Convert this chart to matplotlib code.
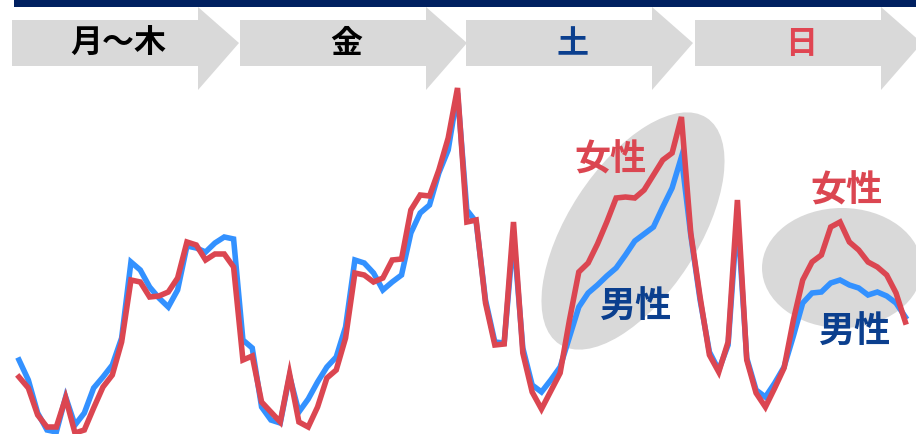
import matplotlib.pyplot as plt
from matplotlib.patches import Polygon, Ellipse, Rectangle

plt.rcParams['font.family'] = ['Noto Sans CJK JP', 'DejaVu Sans']

# hourly index values, 24 points per period (Mon-Thu avg, Fri, Sat, Sun)
male_mon_thu = [80, 60, 27, 10, 8, 43, 15, 27, 52, 63, 75, 102,
                178, 170, 153, 142, 133, 150, 194, 192, 188, 197, 203, 201]
male_fri = [100, 92, 33, 20, 17, 64, 28, 41, 58, 73, 83, 113,
            180, 177, 167, 150, 158, 165, 207, 227, 235, 267, 290, 347]
male_sat = [230, 218, 140, 98, 97, 205, 92, 55, 48, 60, 73, 103,
            133, 147, 155, 164, 172, 185, 199, 206, 213, 233, 252, 283]
male_sun = [205, 140, 88, 70, 95, 225, 82, 50, 43, 57, 73, 104,
            137, 147, 148, 157, 160, 155, 152, 145, 148, 144, 137, 123]

female_mon_thu = [63, 52, 25, 13, 13, 42, 7, 10, 32, 53, 65, 98,
                  160, 158, 143, 144, 148, 162, 198, 195, 180, 186, 186, 173]
female_fri = [80, 84, 38, 28, 18, 66, 18, 13, 33, 62, 70, 102,
              167, 165, 158, 162, 180, 181, 230, 245, 244, 270, 302, 352]
female_sat = [218, 220, 137, 95, 96, 218, 87, 48, 31, 49, 67, 120,
              168, 177, 196, 218, 242, 243, 242, 250, 265, 280, 287, 323]
female_sun = [207, 143, 85, 68, 98, 240, 80, 47, 33, 52, 72, 120,
              160, 178, 185, 213, 218, 198, 190, 178, 173, 165, 147, 118]

period_labels = ['月～木', '金', '土', '日']
period_colors = ['#000000', '#000000', '#0B3F8E', '#E04552']

male = male_mon_thu + male_fri + male_sat + male_sun
female = female_mon_thu + female_fri + female_sat + female_sun

BLUE = '#3391FF'
RED = '#DB4651'
NAVY = '#0B3F8E'
GREY = '#D9D9D9'

fig = plt.figure(figsize=(9.16, 4.34), dpi=100)

# decoration layer in pixel units
deco = fig.add_axes([0, 0, 1, 1], zorder=0)
deco.set_xlim(0, 916)
deco.set_ylim(434, 0)
deco.axis('off')

deco.add_patch(Rectangle((14, 0), 902, 7, color='#002060', lw=0))

starts = [12, 240, 466, 695]
body, head = 186, 41
for x0, lab, col in zip(starts, period_labels, period_colors):
    pts = [(x0, 20), (x0 + body, 20), (x0 + body, 7), (x0 + body + head, 43),
           (x0 + body, 90), (x0 + body, 66), (x0, 66)]
    deco.add_patch(Polygon(pts, closed=True, color=GREY, lw=0))
    deco.text(x0 + body / 2 + 13, 44, lab, ha='center', va='center',
              fontsize=23, fontweight='bold', color=col)

deco.add_patch(Ellipse((633, 231), 270, 130, angle=-57, color=GREY, lw=0))
deco.add_patch(Ellipse((842, 268), 160, 120, color=GREY, lw=0))

deco.text(610, 160, '女性', ha='center', va='center', fontsize=26,
          fontweight='bold', color=RED)
deco.text(635, 307, '男性', ha='center', va='center', fontsize=26,
          fontweight='bold', color=NAVY)
deco.text(846, 191, '女性', ha='center', va='center', fontsize=26,
          fontweight='bold', color=RED)
deco.text(854, 332, '男性', ha='center', va='center', fontsize=26,
          fontweight='bold', color=NAVY)

# line layer
ax = fig.add_axes([0, 0, 1, 1], zorder=1)
ax.patch.set_alpha(0)
hours = range(len(male))
ax.plot(hours, male, color=BLUE, lw=4.0, solid_joinstyle='miter')
ax.plot(hours, female, color=RED, lw=4.0, solid_joinstyle='miter')
ax.set_xlim(-19 / 9.33, 897 / 9.33)
ax.set_ylim(6, 440)
ax.axis('off')

fig.savefig('out.png', dpi=100)
